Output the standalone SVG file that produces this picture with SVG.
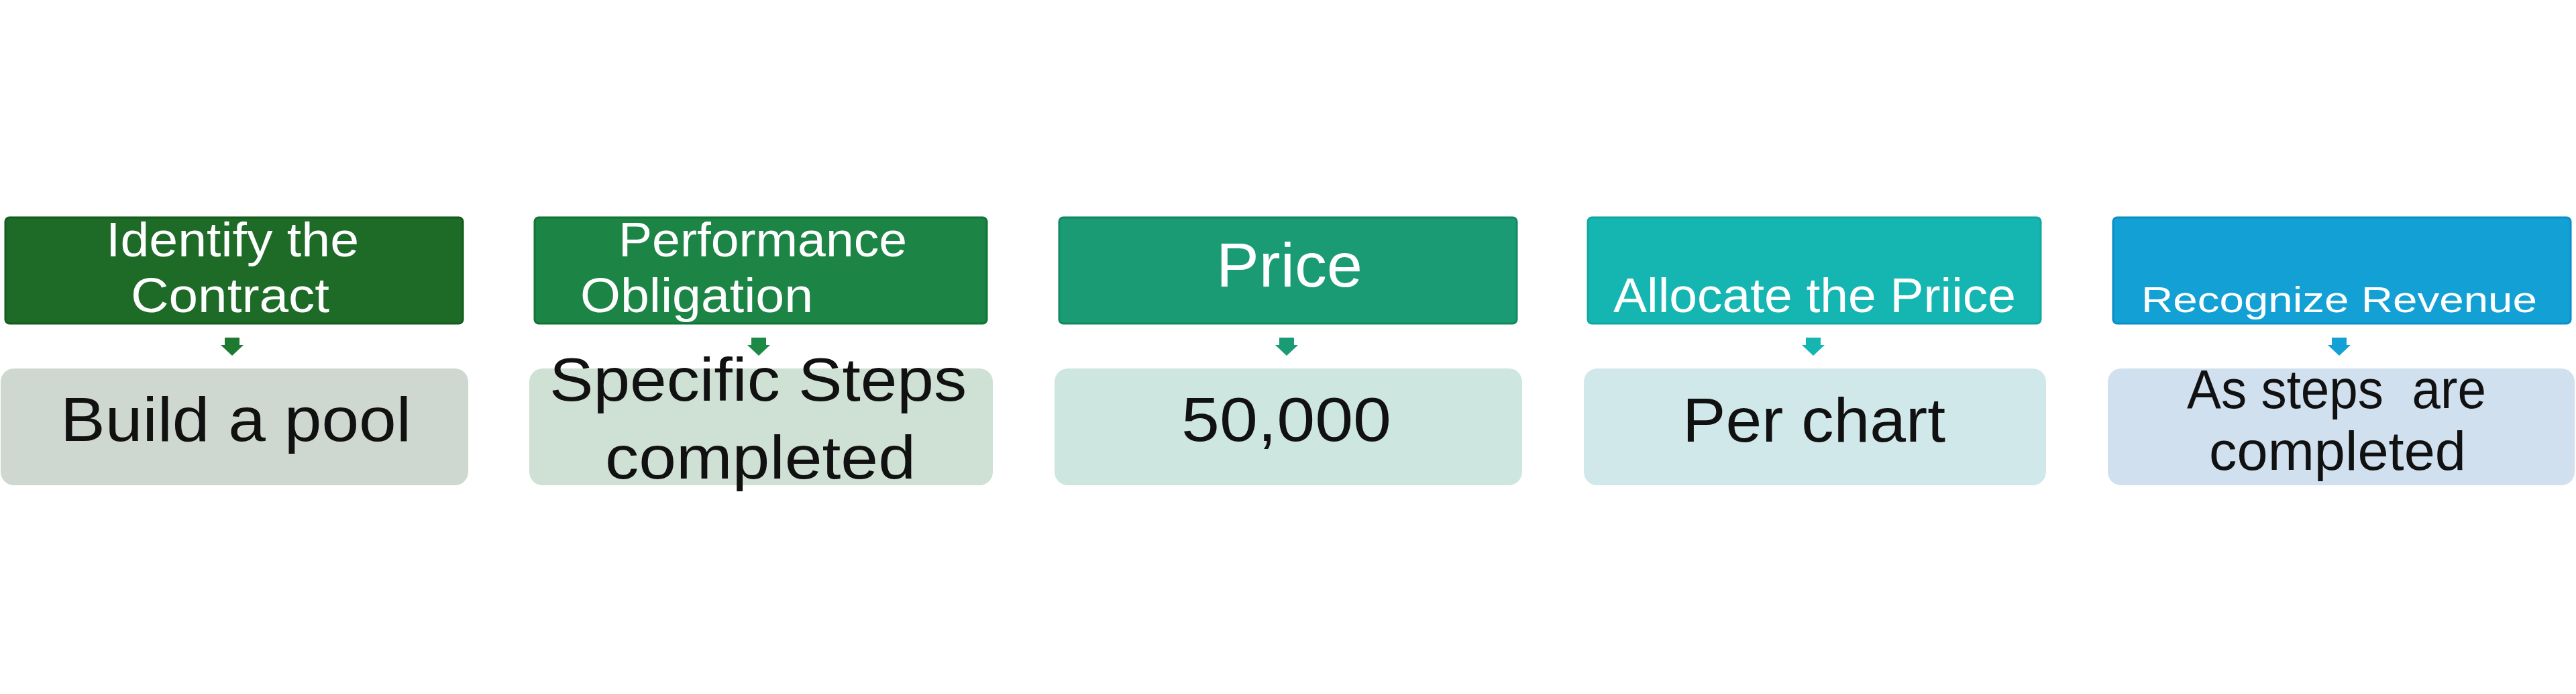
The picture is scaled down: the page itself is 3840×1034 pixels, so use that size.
<svg xmlns="http://www.w3.org/2000/svg" width="3840" height="1034" viewBox="0 0 3840 1034">
<style>
.hd{stroke-width:3}
.bd{stroke:none}
.ht{font-family:"Liberation Sans",Arial,sans-serif;fill:#ffffff;white-space:pre}
.bt{font-family:"Liberation Sans",Arial,sans-serif;fill:#111111;white-space:pre}
</style>
<rect width="3840" height="1034" fill="#ffffff"/>
<g id="node-identify">
<rect class="hd" x="8" y="324" width="682" height="158" rx="6" fill="#1d6b27" stroke="#145d1c"/>
<text class="ht" font-size="72" x="158" y="382" textLength="377" lengthAdjust="spacingAndGlyphs">Identify the</text>
<text class="ht" font-size="72" x="195" y="465" textLength="296" lengthAdjust="spacingAndGlyphs">Contract</text>
</g>
<g id="node-build">
<rect class="bd" x="1" y="549" width="697" height="174" rx="20" fill="#cfd8d0"/>
<text class="bt" font-size="93" x="90" y="657" textLength="523" lengthAdjust="spacingAndGlyphs">Build a pool</text>
</g>
<g id="node-performance">
<rect class="hd" x="797" y="324" width="674" height="158" rx="6" fill="#1c8445" stroke="#117536"/>
<text class="ht" font-size="72" x="922" y="382" textLength="430" lengthAdjust="spacingAndGlyphs">Performance</text>
<text class="ht" font-size="72" x="865" y="465" textLength="347" lengthAdjust="spacingAndGlyphs">Obligation</text>
</g>
<g id="node-steps">
<rect class="bd" x="789" y="549" width="691" height="174" rx="20" fill="#cfe0d5"/>
<text class="bt" font-size="91" x="819" y="597" textLength="622" lengthAdjust="spacingAndGlyphs">Specific Steps</text>
<text class="bt" font-size="91" x="902" y="713" textLength="463" lengthAdjust="spacingAndGlyphs">completed</text>
</g>
<g id="node-price">
<rect class="hd" x="1579" y="324" width="682" height="158" rx="6" fill="#1a9b74" stroke="#118a62"/>
<text class="ht" font-size="93" x="1813" y="427" textLength="218" lengthAdjust="spacingAndGlyphs">Price</text>
</g>
<g id="node-amount">
<rect class="bd" x="1572" y="549" width="697" height="174" rx="20" fill="#cde6df"/>
<text class="bt" font-size="93" x="1761" y="657" textLength="313" lengthAdjust="spacingAndGlyphs">50,000</text>
</g>
<g id="node-allocate">
<rect class="hd" x="2367" y="324" width="675" height="158" rx="6" fill="#15b6b2" stroke="#0fa7a2"/>
<text class="ht" font-size="72" x="2405" y="465" textLength="600" lengthAdjust="spacingAndGlyphs">Allocate the Priice</text>
</g>
<g id="node-perchart">
<rect class="bd" x="2361" y="549" width="689" height="174" rx="20" fill="#d0e8ea"/>
<text class="bt" font-size="93" x="2508" y="658" textLength="392" lengthAdjust="spacingAndGlyphs">Per chart</text>
</g>
<g id="node-recognize">
<rect class="hd" x="3150" y="324" width="682" height="158" rx="6" fill="#12a0d5" stroke="#0a90c5"/>
<text class="ht" font-size="54" x="3192" y="465" textLength="590" lengthAdjust="spacingAndGlyphs">Recognize Revenue</text>
</g>
<g id="node-ascompleted">
<rect class="bd" x="3142" y="549" width="696" height="174" rx="20" fill="#d0e0ef"/>
<text class="bt" font-size="81" x="3260" y="608" textLength="446" lengthAdjust="spacingAndGlyphs">As steps  are</text>
<text class="bt" font-size="81" x="3293" y="700" textLength="383" lengthAdjust="spacingAndGlyphs">completed</text>
</g>
<g id="connectors">
<path d="M335 503 H357 V514 H363 L346 530 L329 514 H335 Z" fill="#1e7a30"/>
<path d="M1120 503 H1142 V514 H1148 L1131 530 L1114 514 H1120 Z" fill="#1c8a45"/>
<path d="M1907 503 H1929 V514 H1935 L1918 530 L1901 514 H1907 Z" fill="#1a9b74"/>
<path d="M2692 503 H2714 V514 H2720 L2703 530 L2686 514 H2692 Z" fill="#15b6b2"/>
<path d="M3476 503 H3498 V514 H3504 L3487 530 L3470 514 H3476 Z" fill="#12a0d5"/>
</g>
</svg>
